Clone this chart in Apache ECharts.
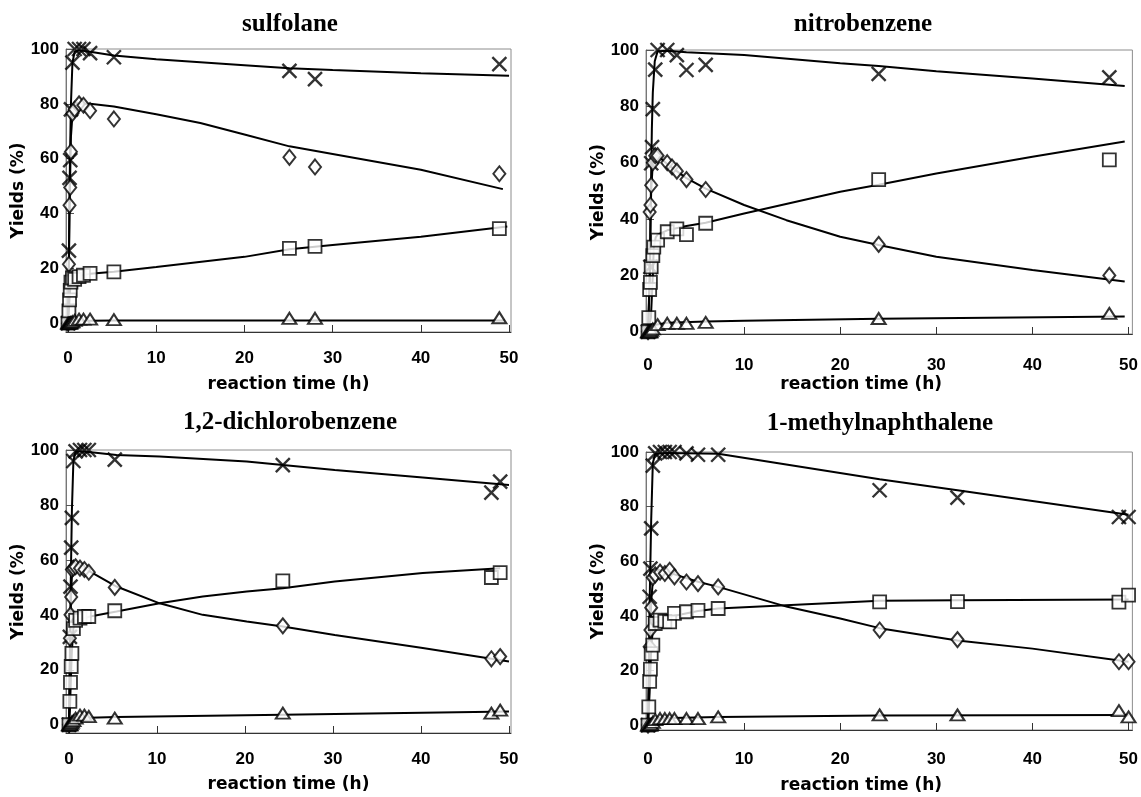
<!DOCTYPE html>
<html><head><meta charset="utf-8">
<script src="https://cdn.jsdelivr.net/npm/echarts@6/dist/echarts.min.js"></script>
<style>html,body{margin:0;padding:0;background:#fff}#c{width:1141px;height:797px}</style>
</head><body><div id="c"></div>
<script>
// ---------- text ----------
const panelTitles = ['sulfolane', 'nitrobenzene', '1,2-dichlorobenzene', '1-methylnaphthalene'];
const xAxisName = 'reaction time (h)';
const yAxisName = 'Yields (%)';
const xTickValues = [0, 10, 20, 30, 40, 50];
const yTickValues = [0, 20, 40, 60, 80, 100];

// ---------- sulfolane: measured [time (h), yield (%)] ----------
const sulfolaneCross   = [[0,0],[0.1,26.5],[0.17,53],[0.25,59.5],[0.33,78],[0.5,95],[0.75,100],[1.25,100],[1.75,100],[2.5,98.5],[5.2,97],[25.1,92],[28,89],[48.9,94.5]];
const sulfolaneDiamond = [[0,0],[0.1,21.5],[0.17,43],[0.25,49.5],[0.33,62.5],[0.5,76.5],[0.75,78],[1.25,80],[1.75,79.5],[2.5,77.5],[5.2,74.5],[25.1,60.5],[28,57],[48.9,54.5]];
const sulfolaneSquare  = [[0,0],[0.1,4.5],[0.17,8.5],[0.25,12],[0.33,15],[0.5,16.5],[0.75,16],[1.25,17],[1.75,17.5],[2.5,18.2],[5.2,18.7],[25.1,27.3],[28,28],[48.9,34.5]];
const sulfolaneTri     = [[0,0],[0.1,0],[0.17,0],[0.25,0],[0.33,0.3],[0.5,0.5],[0.75,1],[1.25,1.5],[1.75,1.5],[2.5,1.5],[5.2,1.3],[25.1,1.8],[28,1.8],[48.9,2]];
// sulfolane: model curves
const sulfolaneCrossFit   = [[0,0],[0.1,25],[0.17,48],[0.25,65],[0.33,80],[0.5,95],[0.75,99],[1.25,99.5],[2.5,99],[5.2,97.6],[10,96.3],[20,94.1],[25.1,93],[30,92.3],[40,91.2],[50,90.2]];
const sulfolaneDiamondFit = [[0,0],[0.1,20],[0.17,40],[0.25,55],[0.33,68],[0.5,76],[0.75,79],[1.25,80],[2.5,80],[5.2,79],[10,76.2],[15,73],[20,68.8],[25.1,64.5],[30,61.7],[40,56],[49.3,48.9]];
const sulfolaneSquareFit  = [[0,0],[0.1,5],[0.17,9],[0.25,12.5],[0.33,14.5],[0.5,16.5],[1.25,17.3],[2.5,18],[5.2,18.8],[10,20.5],[20,24.2],[25.1,27],[30,28.5],[40,31.5],[49.8,35.3]];
const sulfolaneTriFit     = [[0,0],[0.33,0.4],[0.75,0.8],[2.5,0.9],[5.2,1],[49.5,1]];

// ---------- nitrobenzene ----------
const nitroCross   = [[0,0],[0.25,23],[0.33,59.8],[0.42,65.5],[0.5,79],[0.75,93],[1,100],[2,100],[3,98.2],[4,92.9],[6,94.7],[24,91.5],[48,90.3]];
const nitroDiamond = [[0,0],[0.17,42.5],[0.25,45],[0.33,52],[0.5,60],[0.75,62.5],[1,62.5],[2,60],[2.5,58.5],[3,57],[4,54],[6,50.5],[24,31],[48,20]];
const nitroSquare  = [[0,0],[0.08,5],[0.17,15],[0.25,17.5],[0.33,23],[0.5,27],[0.6,30],[1,32.5],[2,35.5],[3,36.5],[4,34.5],[6,38.5],[24,54],[48,61]];
const nitroTri     = [[0,0],[0.08,0],[0.17,0],[0.25,0],[0.33,0.5],[0.5,1],[1,2.5],[2,3],[3,3],[4,3],[6,3.3],[24,4.7],[48,6.5]];
const nitroCrossFit   = [[0,0],[0.2,20],[0.3,50],[0.4,72],[0.5,85],[0.7,96],[1,99.6],[2,99.7],[4,99.2],[10,98.2],[20,95.3],[24,94.3],[30,92.5],[40,89.9],[49.6,87.2]];
const nitroDiamondFit = [[0,0],[0.17,20],[0.25,38],[0.33,50],[0.5,60],[0.75,63],[1,62.5],[2,59.5],[3,57],[4,54.5],[6,50.8],[10,45],[14.4,39.6],[20,33.7],[24,30.8],[30,26.6],[40,21.9],[49.6,17.8]];
const nitroSquareFit  = [[0,0],[0.3,5],[0.5,20],[0.6,30],[0.8,33.5],[1,34.5],[2,36],[4,37.5],[6,38.7],[10,42],[20,49.7],[24,52.2],[30,56.2],[40,62.1],[49.6,67.5]];
const nitroTriFit     = [[0,0],[0.5,0.5],[0.8,2.5],[1,3],[2,3.2],[6,3.6],[10,3.9],[24,4.6],[49.6,5.4]];

// ---------- 1,2-dichlorobenzene ----------
const dcbCross   = [[0,0],[0.1,32],[0.17,50.3],[0.25,64.5],[0.33,75.3],[0.5,96],[0.75,99.5],[1.25,100],[1.75,100],[2.25,100],[5.2,96.5],[24.3,94.5],[48,84.5],[49,88.5]];
const dcbDiamond = [[0,0],[0.1,31.5],[0.17,40],[0.25,46.5],[0.33,56.5],[0.5,57],[0.75,57.5],[1.25,57],[1.75,56.5],[2.25,55.5],[5.2,50],[24.3,36],[48,24],[49,24.8]];
const dcbSquare  = [[0,0],[0.1,8.5],[0.17,15.4],[0.25,21.2],[0.33,26],[0.5,35],[0.75,38],[1.25,38.8],[1.75,39.4],[2.25,39.4],[5.2,41.5],[24.3,52.4],[48,53.6],[49,55.4]];
const dcbTri     = [[0,0],[0.1,0],[0.17,0],[0.25,0.5],[0.33,1],[0.5,1.5],[0.75,2.4],[1.25,3.5],[1.75,3.5],[2.25,3],[5.2,2.4],[24.3,4.2],[48,4.2],[49,5.3]];
const dcbCrossFit   = [[0,0],[0.1,25],[0.17,45],[0.25,62],[0.33,78],[0.5,96],[0.75,99.5],[2.25,99.3],[5.4,98.2],[10.3,97.6],[20.2,95.8],[24.3,94.5],[30.2,92.7],[40.2,90],[50,87.3]];
const dcbDiamondFit = [[0,0],[0.1,22],[0.17,38],[0.25,48],[0.33,54],[0.5,57],[1,57.8],[2,56.5],[5.4,50.3],[10.3,44.2],[15.2,40],[20.2,37.6],[24.3,35.8],[30.2,32.7],[40.2,27.9],[50,23]];
const dcbSquareFit  = [[0,0],[0.1,5],[0.17,12],[0.25,20],[0.33,27],[0.5,35],[0.75,38],[2.4,39.4],[5.4,41.2],[10.3,44.2],[15.2,46.7],[20.2,48.5],[24.3,49.7],[30.2,52.1],[40.2,55.2],[49,57]];
const dcbTriFit     = [[0,0],[0.33,0.8],[0.75,2],[1.25,2.5],[5.4,2.8],[24.3,3.6],[50,4.8]];

// ---------- 1-methylnaphthalene ----------
const mnCross   = [[0,0],[0.17,47],[0.25,57.3],[0.33,72],[0.5,95],[0.75,99.5],[1.25,100],[1.75,100],[2.25,100],[2.75,100],[4,99.5],[5.2,99],[7.3,99],[24.1,86],[32.2,83.3],[49,76.2],[50,76.2]];
const mnDiamond = [[0,0],[0.17,28.7],[0.25,34.8],[0.33,43],[0.5,54],[0.75,55],[1.25,56],[1.75,55.5],[2.25,56.7],[2.75,54.3],[4,52.4],[5.2,51.8],[7.3,50.6],[24.1,34.8],[32.2,31.3],[49,23.2],[50,23.2]];
const mnSquare  = [[0,0],[0.08,6.7],[0.17,16],[0.25,20.5],[0.33,26.2],[0.5,29.3],[0.75,37.2],[1.25,38.4],[1.75,38],[2.25,37.8],[2.75,40.9],[4,41.5],[5.2,42],[7.3,42.7],[24.1,45.1],[32.2,45.2],[49,45],[50,47.6]];
const mnTri     = [[0,0],[0.17,0],[0.25,0],[0.33,0.3],[0.5,1],[0.75,2],[1.25,2.4],[1.75,2.4],[2.25,2.4],[2.75,2.4],[4,2.4],[5.2,2.4],[7.3,3],[24.1,3.7],[32.2,3.7],[49,5.3],[50,3]];
const mnCrossFit   = [[0,0],[0.17,45],[0.25,60],[0.33,75],[0.5,96],[0.75,99.4],[2,99.6],[7.3,99.4],[24.1,90],[32.2,86],[50,77]];
const mnDiamondFit = [[0,0],[0.17,25],[0.25,35],[0.33,45],[0.5,53],[1,57],[2,56],[5.2,52.5],[7.3,50.6],[14.5,43.3],[20,39],[24.1,35.5],[32.2,31],[40,28],[50,23.2]];
const mnSquareFit  = [[0,0],[0.17,12],[0.25,20],[0.33,28],[0.5,35],[0.75,37.5],[2,39.5],[5.2,41.8],[7.3,42.7],[24.1,45.5],[32.2,45.7],[50,46]];
const mnTriFit     = [[0,0],[0.5,1],[0.75,2],[1.25,2.5],[7.3,3],[24.1,3.5],[50,3.7]];

const panelMeasured = [
  [sulfolaneCross, sulfolaneDiamond, sulfolaneSquare, sulfolaneTri],
  [nitroCross, nitroDiamond, nitroSquare, nitroTri],
  [dcbCross, dcbDiamond, dcbSquare, dcbTri],
  [mnCross, mnDiamond, mnSquare, mnTri]
];
const panelFits = [
  [sulfolaneCrossFit, sulfolaneDiamondFit, sulfolaneSquareFit, sulfolaneTriFit],
  [nitroCrossFit, nitroDiamondFit, nitroSquareFit, nitroTriFit],
  [dcbCrossFit, dcbDiamondFit, dcbSquareFit, dcbTriFit],
  [mnCrossFit, mnDiamondFit, mnSquareFit, mnTriFit]
];

// ---------- layout (pixels) ----------
const layout = [
  {left:66,  top:49,  width:445, height:283, xmin:-0.23, xmax:50.22, ymin:-3.2, tx:290, ty:25,  xGap:44, yGap:30, lm:18, nameShift:0},
  {left:646, top:50,  width:488, height:284, xmin:-0.21, xmax:50.4,  ymin:-0.8, tx:863, ty:25,  xGap:42, yGap:38, lm:23, nameShift:56},
  {left:66,  top:450, width:445, height:283, xmin:-0.34, xmax:50.23, ymin:-3.0, tx:290, ty:423, xGap:43, yGap:31, lm:18, nameShift:0},
  {left:646, top:452, width:488, height:278, xmin:-0.21, xmax:50.4,  ymin:-1.8, tx:880, ty:424, xGap:47, yGap:37, lm:21, nameShift:56}
];

const crossPath = 'path://M0,0L10,10M10,0L0,10';
const markerStyles = [
  {symbol: crossPath, size: [14, 14], item: {color: '#000', borderColor: '#000', borderWidth: 2.4}},
  {symbol: 'diamond', size: [12, 15], item: {color: '#fff', borderColor: '#000', borderWidth: 2}},
  {symbol: 'rect', size: [13, 13], item: {color: '#fff', borderColor: '#000', borderWidth: 1.8}},
  {symbol: 'triangle', size: [14, 11], item: {color: '#fff', borderColor: '#000', borderWidth: 2}}
];
const tickFont = 'Liberation Sans';
const nameFont = 'DejaVu Sans';

const grids = [], xAxes = [], yAxes = [], series = [], titles = [];
layout.forEach((L, i) => {
  grids.push({left: L.left, top: L.top, width: L.width, height: L.height, show: true, borderColor: '#8c8c8c', borderWidth: 1, containLabel: false});
  titles.push({text: panelTitles[i], left: L.tx, top: L.ty, textAlign: 'center', textVerticalAlign: 'middle', padding: 0,
    textStyle: {fontFamily: 'Liberation Serif', fontWeight: 'bold', fontSize: 25, color: '#000'}});
  xAxes.push({type: 'value', gridIndex: i, min: L.xmin, max: L.xmax,
    name: xAxisName, nameLocation: 'middle', nameGap: L.xGap,
    nameTextStyle: {fontFamily: nameFont, fontWeight: 'bold', fontSize: 17, color: '#000', padding: [0, L.nameShift, 0, 0]},
    axisLine: {show: true, onZero: false, lineStyle: {color: '#333', width: 1}},
    axisTick: {show: true, inside: true, length: 7, customValues: xTickValues, lineStyle: {color: '#333'}},
    axisLabel: {customValues: xTickValues, margin: L.lm, fontFamily: tickFont, fontWeight: 'bold', fontSize: 17, color: '#000'},
    splitLine: {show: false}});
  yAxes.push({type: 'value', gridIndex: i, min: L.ymin, max: 100,
    name: yAxisName, nameLocation: 'middle', nameGap: L.yGap, nameRotate: 90,
    nameTextStyle: {fontFamily: nameFont, fontWeight: 'bold', fontSize: 17, color: '#000'},
    axisLine: {show: true, onZero: false, lineStyle: {color: '#777', width: 1}},
    axisTick: {show: true, inside: true, length: 8, customValues: yTickValues, lineStyle: {color: '#555'}},
    axisLabel: {customValues: yTickValues, margin: 7, fontFamily: tickFont, fontWeight: 'bold', fontSize: 17, color: '#000'},
    splitLine: {show: false}});
  panelFits[i].forEach(d => series.push({type: 'line', xAxisIndex: i, yAxisIndex: i, data: d, showSymbol: false, symbol: 'none',
    lineStyle: {color: '#000', width: 2}, z: 2, silent: true}));
  panelMeasured[i].forEach((d, k) => series.push({type: 'scatter', xAxisIndex: i, yAxisIndex: i, data: d,
    symbol: markerStyles[k].symbol, symbolSize: markerStyles[k].size, itemStyle: markerStyles[k].item, z: 3, silent: true}));
});

const chart = echarts.init(document.getElementById('c'), null, {renderer: 'canvas'});
chart.setOption({
  animation: false,
  backgroundColor: '#fff',
  title: titles,
  grid: grids,
  xAxis: xAxes,
  yAxis: yAxes,
  series: series
});
</script></body></html>
